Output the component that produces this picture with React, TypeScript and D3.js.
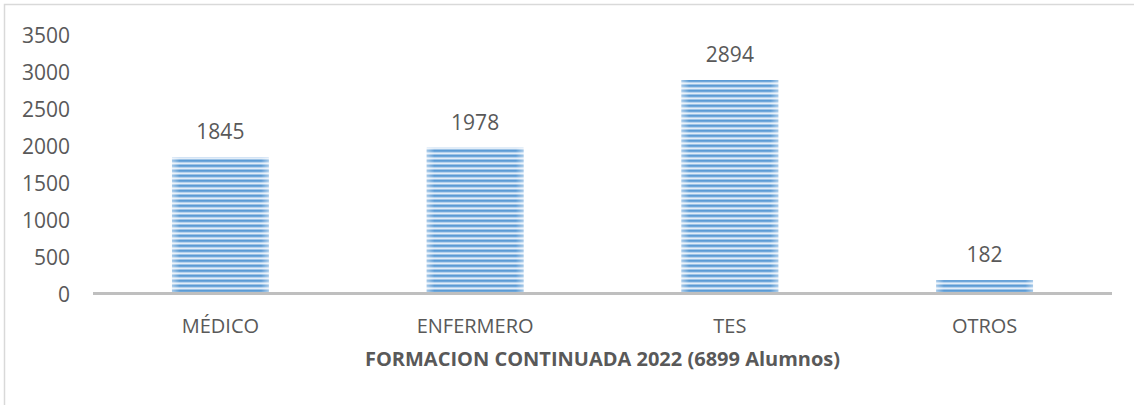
import React from "react";
import * as d3 from "d3";

const categories = ["MÉDICO", "ENFERMERO", "TES", "OTROS"];
const values = [1845, 1978, 2894, 182];
const yTicks = [0, 500, 1000, 1500, 2000, 2500, 3000, 3500];
const title = "FORMACION CONTINUADA 2022 (6899 Alumnos)";

const W = 1134;
const H = 405;
const FONT = "'Open Sans', 'Noto Sans', sans-serif";
const TEXT = "#595959";

export default function App() {
  const x = d3.scaleBand<string>().domain(categories).range([93, 1112]).paddingInner(0.62).paddingOuter(0.31);
  const y = d3.scaleLinear().domain([0, 3500]).range([293.5, 35.3]);
  const stripeRows = ["#5B9BD5", "#6FA7DA", "#B5D2EE", "#E2EDF8", "#9DC3E6"];

  return (
    <svg width={W} height={H} style={{ position: "absolute", left: 0, top: 0, background: "#fff" }}>
      <defs>
        <pattern id="stripes" patternUnits="userSpaceOnUse" width={8} height={stripeRows.length}>
          {stripeRows.map((c, i) => (
            <rect key={i} x={0} y={i} width={8} height={1} fill={c} />
          ))}
        </pattern>
        <linearGradient id="edgeFade" x1="0" x2="1" y1="0" y2="0">
          <stop offset="0" stopColor="#fff" stopOpacity={0.45} />
          <stop offset="0.08" stopColor="#fff" stopOpacity={0} />
          <stop offset="0.92" stopColor="#fff" stopOpacity={0} />
          <stop offset="1" stopColor="#fff" stopOpacity={0.45} />
        </linearGradient>
      </defs>
      <rect x={4.5} y={4.5} width={W + 20} height={H + 20} fill="#fff" stroke="#D9D9D9" strokeWidth={1.5} />

      {yTicks.map((t) => (
        <text key={t} x={70} y={y(t)} textAnchor="end" dominantBaseline="central" fontFamily={FONT} fontSize={21} fill={TEXT}>
          {t}
        </text>
      ))}

      {categories.map((c, i) => {
        const bx = x(c)!;
        const bw = x.bandwidth();
        const top = y(values[i]);
        const bh = y(0) - top;
        return (
          <g key={c}>
            <rect x={bx} y={top} width={bw} height={bh} fill="url(#stripes)" />
            <rect x={bx} y={top} width={bw} height={bh} fill="url(#edgeFade)" />
            <text x={bx + bw / 2} y={top - 26} textAnchor="middle" dominantBaseline="central" fontFamily={FONT} fontSize={21} fill={TEXT}>
              {values[i]}
            </text>
            <text x={bx + bw / 2} y={325} textAnchor="middle" dominantBaseline="central" fontFamily={FONT} fontSize={20} fill={TEXT}>
              {c}
            </text>
          </g>
        );
      })}

      <line x1={93} x2={1112} y1={y(0)} y2={y(0)} stroke="#BFBFBF" strokeWidth={3} />

      <text x={(93 + 1112) / 2} y={358} textAnchor="middle" dominantBaseline="central" fontFamily={FONT} fontSize={20} fontWeight="bold" fill={TEXT}>
        {title}
      </text>
    </svg>
  );
}
